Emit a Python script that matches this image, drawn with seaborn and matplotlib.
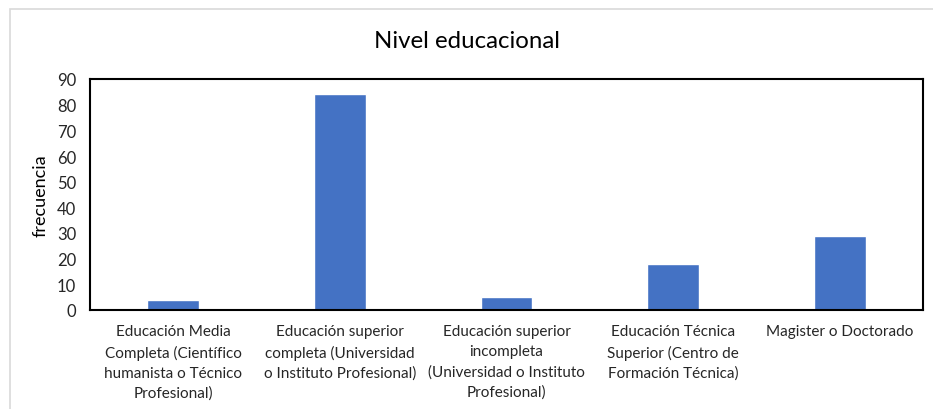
import matplotlib
matplotlib.use("Agg")
import matplotlib.pyplot as plt
import seaborn as sns
import pandas as pd
from matplotlib.patches import Rectangle

# ----------------------------------------------------------------------------------
# Data
# ----------------------------------------------------------------------------------
categorias = [
    "Educación Media\nCompleta (Científico\nhumanista o Técnico\nProfesional)",
    "Educación superior\ncompleta (Universidad\no Instituto Profesional)",
    "Educación superior\nincompleta\n(Universidad o Instituto\nProfesional)",
    "Educación Técnica\nSuperior (Centro de\nFormación Técnica)",
    "Magister o Doctorado",
]
frecuencias = [4, 84, 5, 18, 29]
y_ticks = [0, 10, 20, 30, 40, 50, 60, 70, 80, 90]

df = pd.DataFrame({"nivel": categorias, "frecuencia": frecuencias})

# ----------------------------------------------------------------------------------
# Plot
# ----------------------------------------------------------------------------------
sns.set_theme(style="white")
plt.rcParams["font.family"] = ["Lato", "DejaVu Sans"]

fig = plt.figure(figsize=(9.33, 4.10), dpi=100)
ax = fig.add_axes([90 / 933, 1 - 311 / 410, (923 - 90) / 933, (311 - 80) / 410])

# light frame around the chart area
fig.patches.append(Rectangle((10 / 933, -0.1), 1.2, 1 - 10 / 410 + 0.1,
                             transform=fig.transFigure, fill=False,
                             edgecolor="#d9d9d9", linewidth=1.2))

sns.barplot(data=df, x="nivel", y="frecuencia", color="#4472C4",
            width=0.31, saturation=1, ax=ax)

ax.set_ylim(0, 90)
ax.set_yticks(y_ticks)
ax.set_xlim(-0.5, len(categorias) - 0.5)
ax.set_xlabel("")
ax.set_ylabel("frecuencia", fontsize=13, color="#000000", labelpad=6)
ax.tick_params(axis="x", length=0, labelsize=11, colors="#262626", pad=10)
ax.tick_params(axis="y", length=0, labelsize=12, colors="#262626", pad=10)
for lbl in ax.get_xticklabels():
    lbl.set_linespacing(1.55)

for s in ax.spines.values():
    s.set_visible(True)
    s.set_color("black")
    s.set_linewidth(1.5)

fig.text(0.5, 1 - 42 / 410, "Nivel educacional", ha="center", va="center",
         fontsize=17.3, color="#000000")

fig.savefig("out.png", dpi=100)
plt.close(fig)
